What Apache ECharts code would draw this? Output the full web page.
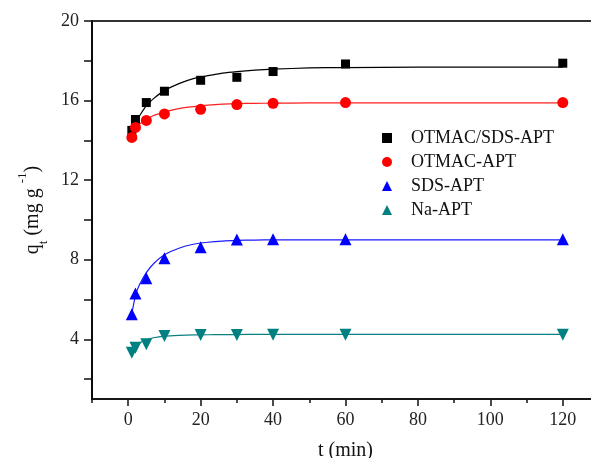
<!DOCTYPE html>
<html>
<head>
<meta charset="utf-8">
<script src="https://cdn.jsdelivr.net/npm/echarts@6/dist/echarts.min.js"></script>
<style>
  html, body { margin: 0; padding: 0; background: #fff; }
  #chart { width: 591px; height: 458px; }
</style>
</head>
<body>
<div id="chart"></div>
<script>
// measured points
const tPts = [1, 2, 5, 10, 20, 30, 40, 60, 120];
const otmacSds = [14.5, 15.05, 15.9, 16.47, 17.02, 17.17, 17.46, 17.84, 17.88];
const otmac = [14.15, 14.65, 15.0, 15.33, 15.56, 15.8, 15.86, 15.9, 15.9];
const sds = [5.26, 6.3, 7.07, 8.08, 8.63, 9.02, 9.03, 9.03, 9.03];
const na = [3.33, 3.58, 3.75, 4.17, 4.22, 4.22, 4.23, 4.23, 4.23];

// fitted curves
const fitT = [1, 2, 3, 5, 7, 10, 14, 18, 22, 26, 30, 35, 40, 50, 60, 80, 100, 120];
const fitOtmacSds = [14.55, 14.9, 15.2, 15.75, 16.1, 16.5, 16.85, 17.1, 17.25, 17.38, 17.46, 17.53, 17.58, 17.64, 17.66, 17.68, 17.68, 17.68];
const fitOtmac = [14.3, 14.6, 14.8, 15.05, 15.25, 15.42, 15.6, 15.7, 15.77, 15.82, 15.85, 15.86, 15.87, 15.88, 15.88, 15.88, 15.88, 15.88];
const fitSds = [5.3, 6.2, 6.7, 7.35, 7.8, 8.25, 8.58, 8.78, 8.88, 8.94, 8.97, 8.99, 9.0, 9.0, 9.0, 9.0, 9.0, 9.0];
const fitNa = [3.45, 3.65, 3.8, 3.98, 4.08, 4.16, 4.2, 4.22, 4.23, 4.24, 4.24, 4.25, 4.25, 4.25, 4.25, 4.25, 4.25, 4.25];

const xMajor = [0, 20, 40, 60, 80, 100, 120];
const yTicks = [2, 4, 6, 8, 10, 12, 14, 16, 18, 20];
const yLabels = [4, 8, 12, 16, 20];

const font = 'Liberation Serif';
const pairs = (xs, ys) => xs.map((x, i) => [x, ys[i]]);

let myChart = echarts.init(document.getElementById('chart'));

const fit = (name, vals, color) => ({
  name: name,
  type: 'line',
  data: pairs(fitT, vals),
  smooth: 0.2,
  showSymbol: false,
  lineStyle: { color: color, width: 1.2 },
  z: 2,
  silent: true
});

const pts = (name, vals, color, symbol, size, rot) => ({
  name: name,
  type: 'scatter',
  data: pairs(tPts, vals),
  symbol: symbol,
  symbolSize: size,
  symbolRotate: rot || 0,
  itemStyle: { color: color, opacity: 1 },
  z: 3
});

let option = {
  animation: false,
  // plot box runs past the right edge of the picture (cropped like the original)
  grid: {
    left: 92, top: 21, width: 507, bottom: 59,
    containLabel: false, outerBoundsMode: 'none',
    show: true, borderColor: '#333', borderWidth: 2
  },
  legend: {
    data: ['OTMAC/SDS-APT', 'OTMAC-APT', 'SDS-APT', 'Na-APT'],
    orient: 'vertical',
    left: 377,
    top: 124,
    itemWidth: 10,
    itemHeight: 10,
    itemGap: 6,
    textStyle: { fontFamily: font, fontSize: 18, color: '#111', padding: [0, 0, 0, 14] }
  },
  xAxis: [
    {
      type: 'value', min: -10, max: 130, position: 'bottom',
      name: 't (min)', nameLocation: 'middle', nameGap: 42,
      nameTextStyle: { fontFamily: font, fontSize: 20, color: '#111' },
      axisLine: { onZero: false, lineStyle: { color: '#111', width: 1.5 } },
      axisTick: { customValues: xMajor, length: 7, lineStyle: { color: '#111', width: 1.5 } },
      axisLabel: { customValues: xMajor, fontFamily: font, fontSize: 18, color: '#222', margin: 12 },
      splitLine: { show: false }
    },
    {
      type: 'value', min: -10, max: 130, interval: 10, position: 'bottom',
      axisLine: { show: false },
      axisTick: { length: 4, lineStyle: { color: '#111', width: 1.5 } },
      axisLabel: { show: false },
      splitLine: { show: false }
    }
  ],
  yAxis: {
    type: 'value', min: 1, max: 20,
    name: 'q{sub|t} (mg g {sup|-1})', nameLocation: 'middle', nameGap: 41,
    nameTextStyle: {
      fontFamily: font, fontSize: 20, color: '#111', lineHeight: 28,
      rich: {
        sub: { fontFamily: font, fontSize: 13, color: '#111', verticalAlign: 'bottom', lineHeight: 22 },
        sup: { fontFamily: font, fontSize: 13, color: '#111', verticalAlign: 'top', lineHeight: 34 }
      }
    },
    axisLine: { show: true, onZero: false, lineStyle: { color: '#000', width: 1.5 } },
    axisTick: { customValues: yTicks, length: 8, lineStyle: { color: '#111', width: 1.5 } },
    axisLabel: { customValues: yLabels, fontFamily: font, fontSize: 18, color: '#222', margin: 13 },
    splitLine: { show: false }
  },
  series: [
    fit('fit1', fitOtmacSds, '#000000'),
    fit('fit2', fitOtmac, '#ff2020'),
    fit('fit3', fitSds, '#1a1aff'),
    fit('fit4', fitNa, '#0a8080'),
    pts('OTMAC/SDS-APT', otmacSds, '#000000', 'rect', 9),
    pts('OTMAC-APT', otmac, '#ff0000', 'circle', 11),
    pts('SDS-APT', sds, '#0000ff', 'triangle', 12),
    pts('Na-APT', na, '#008080', 'triangle', 12, 180)
  ]
};

option && myChart.setOption(option);
</script>
</body>
</html>
